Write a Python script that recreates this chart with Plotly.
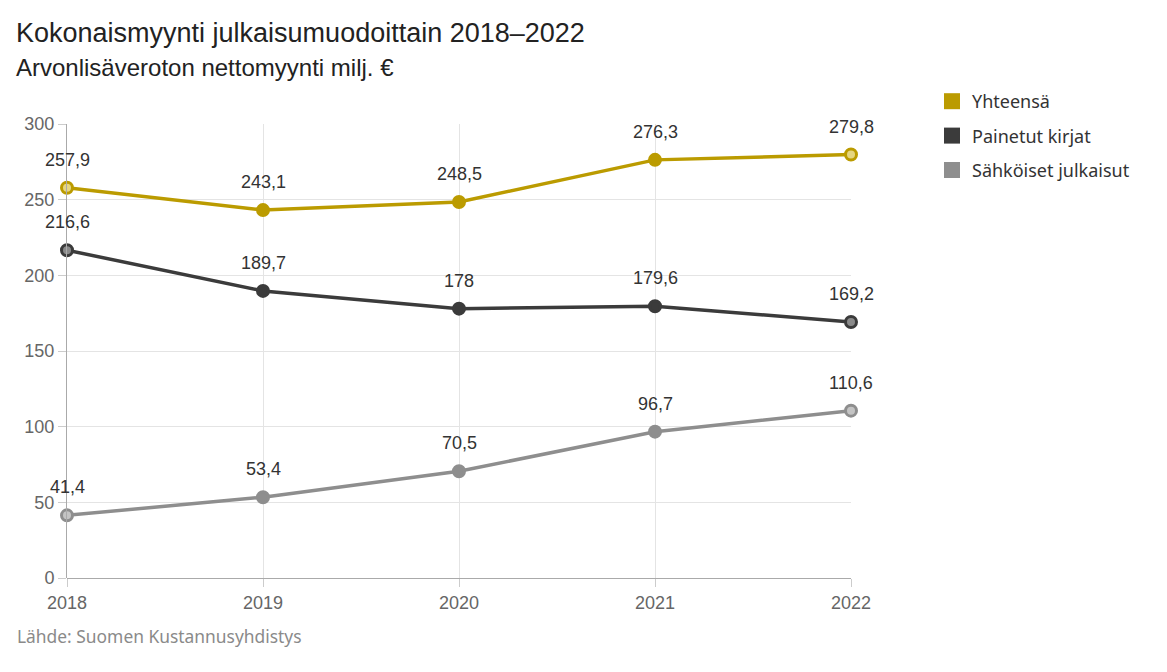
import plotly.graph_objects as go

years = [2018, 2019, 2020, 2021, 2022]
yhteensa = [257.9, 243.1, 248.5, 276.3, 279.8]
painetut = [216.6, 189.7, 178.0, 179.6, 169.2]
sahkoiset = [41.4, 53.4, 70.5, 96.7, 110.6]
series_names = ["Yhteensä", "Painetut kirjat", "Sähköiset julkaisut"]
series_values = [yhteensa, painetut, sahkoiset]
colors = ["#bb9b00", "#3b3b3b", "#8e8e8e"]
light = ["#e6d680", "#8a8a8a", "#c4c4c4"]

W, H = 1167, 672
OFF = 8  # page body margin
L, T = 67 - OFF, 124 - OFF
R = W - (851 - OFF)
B = H - (578 - OFF)
pw = W - L - R
ph = H - T - B

def px(xscreen):
    return (xscreen - OFF - L) / pw

def py(yscreen):
    return 1 - (yscreen - OFF - T) / ph

def fmt(v):
    s = ("%.1f" % v).rstrip("0").rstrip(".")
    return s.replace(".", ",")

FONT = "Liberation Sans, Arial, sans-serif"

fig = go.Figure()
for name, vals, c, lc in zip(series_names, series_values, colors, light):
    fills = [lc if i in (0, len(vals) - 1) else c for i in range(len(vals))]
    fig.add_trace(go.Scatter(
        x=years, y=vals, mode="lines+markers", name=name, showlegend=False,
        line=dict(color=c, width=3.5),
        marker=dict(size=11, color=fills, line=dict(color=c, width=3)),
        cliponaxis=False, hoverinfo="x+y",
    ))
    for xv, yv in zip(years, vals):
        fig.add_annotation(x=xv, y=yv, text=fmt(yv), showarrow=False,
                           yshift=28, font=dict(family=FONT, size=18, color="#333333"))
# legend-only swatches
for name, c in zip(series_names, colors):
    fig.add_trace(go.Scatter(
        x=[None], y=[None], mode="markers", name=name, legendgroup=name,
        marker=dict(symbol="square", size=22, color=c),
    ))

fig.add_annotation(xref="paper", yref="paper", x=px(14), y=py(33),
                   text="Kokonaismyynti julkaisumuodoittain 2018–2022", showarrow=False,
                   xanchor="left", yanchor="middle",
                   font=dict(family=FONT, size=27, color="#222222"))
fig.add_annotation(xref="paper", yref="paper", x=px(14), y=py(68),
                   text="Arvonlisäveroton nettomyynti milj. €", showarrow=False,
                   xanchor="left", yanchor="middle",
                   font=dict(family=FONT, size=24, color="#222222"))
fig.add_annotation(xref="paper", yref="paper", x=px(15), y=py(636),
                   text="Lähde: Suomen Kustannusyhdistys", showarrow=False,
                   xanchor="left", yanchor="middle",
                   font=dict(family="Noto Sans", size=17.4, color="#8a8a8a"))

fig.update_layout(
    width=W, height=H,
    margin=dict(l=L, r=R, t=T, b=B, autoexpand=False),
    plot_bgcolor="white", paper_bgcolor="white",
    showlegend=True,
    legend=dict(x=px(932), y=py(83), xanchor="left", yanchor="top",
                font=dict(family="Noto Sans", size=18, color="#333333"),
                tracegroupgap=8, itemsizing="trace", bgcolor="rgba(0,0,0,0)"),
    xaxis=dict(range=[2018, 2022], tickvals=years, ticktext=[str(y) for y in years],
               showgrid=True, gridcolor="#e4e4e4", gridwidth=1,
               showline=False, zeroline=False, ticks="outside", ticklen=8, tickcolor="#cccccc",
               tickfont=dict(family=FONT, size=18, color="#666666")),
    yaxis=dict(range=[0, 300], tickvals=[0, 50, 100, 150, 200, 250, 300],
               showgrid=True, gridcolor="#e4e4e4", gridwidth=1,
               showline=True, linecolor="#aaaaaa", linewidth=1,
               zeroline=True, zerolinecolor="#aaaaaa", zerolinewidth=1,
               ticks="outside", ticklen=8, tickcolor="#cccccc",
               tickfont=dict(family=FONT, size=18, color="#666666")),
)
fig.write_html("out.html")
